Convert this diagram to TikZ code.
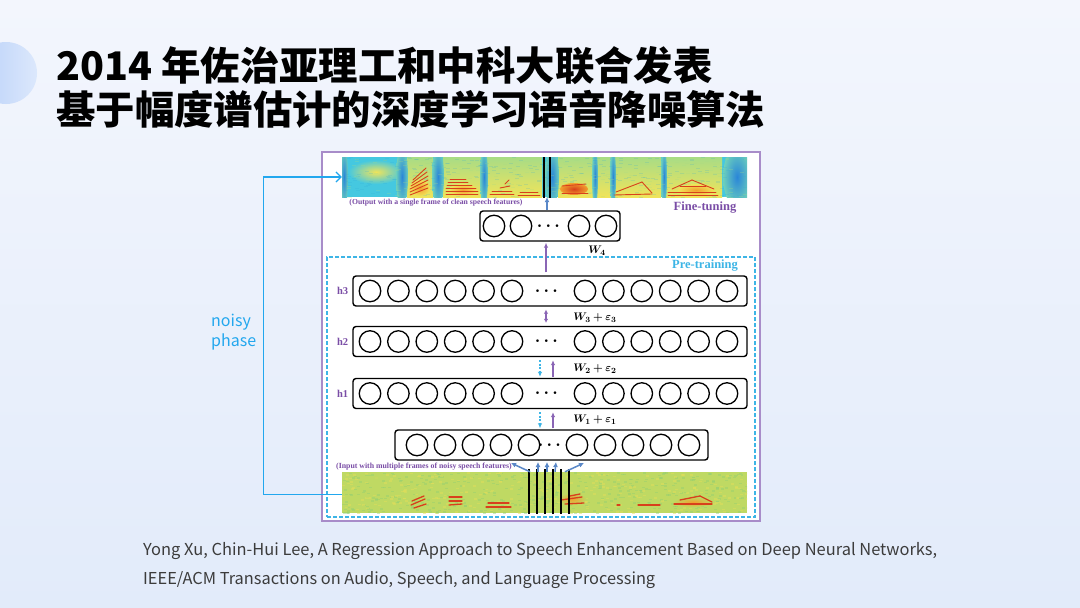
\documentclass[tikz,border=0pt]{standalone}
\usepackage{fontspec}
\usepackage{amsmath,bm}
\usetikzlibrary{arrows.meta,calc}
\newfontfamily\cjk{Noto Sans CJK SC}
\newfontfamily\tnr{Liberation Serif}
\definecolor{bgtop}{HTML}{F3F6FD}
\definecolor{bgbot}{HTML}{E2EBFA}
\definecolor{decoL}{HTML}{B8D0F8}
\definecolor{decoR}{HTML}{DCE8FC}
\definecolor{framepurple}{HTML}{A88CC9}
\definecolor{labpurple}{HTML}{7A4DA6}
\definecolor{arrpurple}{HTML}{8A65B5}
\definecolor{precyan}{HTML}{3DB5E6}
\definecolor{phasecyan}{HTML}{22A7EE}
\definecolor{arrblue}{HTML}{5A88C8}
\definecolor{refgray}{HTML}{3C3C3C}
\definecolor{specCyan}{HTML}{45C8E0}
\definecolor{specCyanD}{HTML}{2FA9D8}
\definecolor{specBlue}{HTML}{2A86D8}
\definecolor{specYel}{HTML}{F0E45A}
\definecolor{specGY}{HTML}{A8DC86}
\definecolor{specOr}{HTML}{F2A02E}
\definecolor{specRed}{HTML}{D8401C}
\definecolor{botBase}{HTML}{BFD963}
\definecolor{botGreen}{HTML}{93CF72}
\definecolor{botYel}{HTML}{E2DE5A}
\begin{document}
\begin{tikzpicture}[x=1pt,y=-1pt,
  rowbox/.style={draw=black, line width=1.4pt, rounded corners=3pt, inner sep=0pt, fill=white},
  neuron/.style={circle, draw=black, line width=1.3pt, minimum size=21.5pt, inner sep=0pt},
  dotsnode/.style={inner sep=0pt, font=\fontsize{16}{16}\selectfont},
  hlab/.style={inner sep=0pt, text=labpurple, font=\tnr\bfseries\fontsize{10.5}{12}\selectfont},
  wlab/.style={inner sep=0pt, font=\fontsize{11}{12}\selectfont},
  parrow/.style={draw=arrpurple, line width=1.2pt, -{Latex[length=5pt,width=4.5pt]}},
  carrow/.style={draw=precyan, line width=1.1pt, dash pattern=on 2pt off 1.5pt, -{Latex[length=5pt,width=4.5pt]}},
  barrow/.style={draw=arrblue, line width=1.5pt, -{Latex[length=5pt,width=5pt]}},
  speclines/.style={draw=black, line width=1.6pt},
  harm/.style={draw=specRed, line width=0.9pt, line cap=round},
  bharm/.style={draw=specRed, line width=1.3pt, line cap=round},
  phase/.style={draw=phasecyan, line width=1.2pt}
]
\useasboundingbox (0,0) rectangle (1080,608);
\shade[top color=bgtop, bottom color=bgbot] (0,0) rectangle (1080,608);
\shade[left color=decoL, right color=decoR] (6,73) circle (31);

% titles
\node[anchor=base west, inner sep=0pt, text=black, font=\cjk\bfseries\fontsize{39.4}{44}\selectfont] (title1) at (56,80) {2014 年佐治亚理工和中科大联合发表};
\node[anchor=base west, inner sep=0pt, text=black, font=\cjk\bfseries\fontsize{39.4}{44}\selectfont] (title2) at (56,124) {基于幅度谱估计的深度学习语音降噪算法};

% frame
\node[draw=framepurple, line width=1.5pt, fill=white, minimum width=438pt, minimum height=369pt, inner sep=0pt] (frame) at (541,336.5) {};
\node[draw=precyan, line width=1.2pt, dash pattern=on 4pt off 2pt, minimum width=428pt, minimum height=260pt, inner sep=0pt] (pre) at (541,387) {};

% top spectrogram
\node[fill=specCyan, minimum width=405pt, minimum height=40pt, inner sep=0pt] (topspec) at (544.5,177) {};
\begin{scope}
\clip (342,157) rectangle (747,197);
\foreach \a/\b in {407/433,443/482,487/542,558/593,597/611,615/661,666/722}{
  \shade[top color=specGY, bottom color=specYel] (\a,157) rectangle (\b,197);
}
\shade[inner color=specYel, outer color=specCyan] (376,172) ellipse [x radius=28, y radius=12];
\foreach \cx/\rx in {344/4,402/6,438/6,484/4,552/7,595/3,613/3,664/3,737/14}{
  \shade[inner color=specBlue, outer color=specCyan!60!specGY] (\cx,177) ellipse [x radius=\rx, y radius=30];
}
\pgfmathsetseed{11}
\foreach \i in {1,...,300}{
  \fill[specCyanD, opacity=0.18] (342+405*rnd,157+40*rnd) rectangle ++(4,1);
}
\foreach \i in {1,...,200}{
  \fill[specGY, opacity=0.25] (342+405*rnd,157+40*rnd) rectangle ++(4,1);
}
\shade[inner color=specRed, outer color=specOr] (574,189) ellipse [x radius=14, y radius=6];
\shade[inner color=specOr, outer color=specYel] (420,188) ellipse [x radius=10, y radius=8];
\shade[inner color=specOr, outer color=specYel] (463,190) ellipse [x radius=14, y radius=6];
\shade[inner color=specOr, outer color=specYel] (696,190) ellipse [x radius=18, y radius=6];
\foreach \a/\b/\c/\d in {410/195/428/188, 410/192/428/184, 410/189/428/180, 411/186/428/176, 412/183/427/172, 413/180/426/168, 446/194/478/194, 446/191/478/191, 446/188/476/188, 447/185/472/185, 448/182/468/182, 450/179/466/179, 490/194/514/194, 492/191/512/191, 500/188/510/186, 505/184/509/180, 518/195/540/195, 520/192/538/192, 562/186/586/184, 562/193/588/193, 614/195/652/194, 616/192/642/182, 642/182/652/193, 668/195/718/195, 668/192/716/192, 672/189/692/180, 692/180/714/189, 680/186/706/186}{
  \draw[harm] (\a,\b) -- (\c,\d);
}
\end{scope}
\draw[speclines] (544,157) -- (544,198);
\draw[speclines] (550,157) -- (550,198);
\coordinate (outarr) at (547,210);
\draw[barrow] (outarr) -- ([xshift=2.5pt]topspec.south);

% bottom spectrogram
\node[fill=botBase, minimum width=405pt, minimum height=41pt, inner sep=0pt] (botspec) at (544.5,492.5) {};
\begin{scope}
\clip (342,472) rectangle (747,513);
\pgfmathsetseed{5}
\foreach \i in {1,...,420}{
  \fill[botGreen, opacity=0.45] (342+405*rnd,472+41*rnd) rectangle ++(3,1.5);
}
\foreach \i in {1,...,300}{
  \fill[botYel, opacity=0.5] (342+405*rnd,472+41*rnd) rectangle ++(3,1.5);
}
\shade[inner color=specOr, outer color=botBase] (572,499) ellipse [x radius=14, y radius=6];
\shade[inner color=specOr, outer color=botBase] (693,502) ellipse [x radius=20, y radius=5];
\foreach \a/\b/\c/\d in {411/505/425/499, 412/501/424/496, 414/508/426/504, 449/497/462/497, 449/501/462/501, 449/505/462/504, 488/503/509/503, 486/507/511/507, 561/500/582/497, 565/504/584/503, 570/496/580/494, 617/505/620/505, 638/505/660/505, 674/504/712/504, 680/500/700/496, 700/496/712/502}{
  \draw[bharm] (\a,\b) -- (\c,\d);
}
\end{scope}
\foreach \x in {529,537,545,553,561,569}{
  \draw[speclines] (\x,469) -- (\x,514);
}

% fine-tuning network
\node[rowbox, minimum width=140pt, minimum height=30pt] (fine) at (550,226) {};
\foreach \x [count=\k] in {494,521,579,606}{
  \node[neuron] (fine-n\k) at (\x,226) {};
}
\node[dotsnode] (fine-d) at (550,226) {$\bm{\cdots}$};

% hidden layers
\foreach \r/\y in {h3/291,h2/341.5,h1/393.5}{
  \node[rowbox, minimum width=394pt, minimum height=30pt] (\r) at (550,\y) {};
  \foreach \i in {0,...,5}{
    \node[neuron] (\r-l\i) at (370+28.4*\i,\y) {};
    \node[neuron] (\r-r\i) at (585+28.4*\i,\y) {};
  }
  \node[dotsnode] (\r-d) at (548,\y) {$\bm{\cdots}$};
  \node[hlab, anchor=east] (\r-lab) at ([xshift=-4pt]\r.west) {\r};
}

% input layer
\node[rowbox, minimum width=313pt, minimum height=30pt] (inp) at (551.5,445) {};
\foreach \x [count=\k] in {417,445,473,501,529}{
  \node[neuron] (inp-l\k) at (\x,445) {};
}
\foreach \x [count=\k] in {577,605,633,661,689}{
  \node[neuron] (inp-r\k) at (\x,445) {};
}
\node[dotsnode] (inp-d) at (551,445) {$\bm{\cdots}$};

% labels
\node[inner sep=0pt, text=labpurple, font=\tnr\bfseries\fontsize{7.7}{8}\selectfont] (outtxt) at (436,203) {(Output with a single frame of clean speech features)};
\node[inner sep=0pt, text=labpurple, font=\tnr\bfseries\fontsize{7.8}{8}\selectfont] (intxt) at (424,467) {(Input with multiple frames of noisy speech features)};
\node[inner sep=0pt, text=labpurple, font=\tnr\bfseries\fontsize{12.5}{14}\selectfont] (ftxt) at (705,208) {Fine-tuning};
\node[inner sep=0pt, text=precyan, font=\tnr\bfseries\fontsize{12.5}{14}\selectfont] (ptxt) at (705,266) {Pre-training};

\node[wlab] (w4) at (597,251) {$\bm{W_4}$};
\node[wlab] (w3) at (595,318) {$\bm{W_3+\varepsilon_3}$};
\node[wlab] (w2) at (595,369) {$\bm{W_2+\varepsilon_2}$};
\node[wlab] (w1) at (595,420) {$\bm{W_1+\varepsilon_1}$};

% arrows
\draw[parrow, shorten <=3pt, shorten >=1pt] ([xshift=-4pt]h3.north) -- ([xshift=-4pt]fine.south);
\draw[parrow, {Latex[length=4pt,width=4.5pt]}-{Latex[length=4pt,width=4.5pt]}, shorten <=3pt, shorten >=3pt] ([xshift=-4pt]h3.south) -- ([xshift=-4pt]h2.north);
\draw[carrow, shorten <=3pt, shorten >=1pt] ([xshift=-10pt]h2.south) -- ([xshift=-10pt]h1.north);
\draw[parrow, shorten <=1pt, shorten >=3pt] ([xshift=3pt]h1.north) -- ([xshift=3pt]h2.south);
\draw[carrow, shorten <=3pt, shorten >=1pt] ([xshift=-10pt]h1.south) -- ([xshift=-10pt]h1.south |- inp.north);
\draw[parrow, shorten <=1pt, shorten >=3pt] ([xshift=3pt]h1.south |- inp.north) -- ([xshift=3pt]h1.south);

% fan arrows
\coordinate (fa1) at (511,463);
\coordinate (fa2) at (538,462);
\coordinate (fa3) at (547,462);
\coordinate (fa4) at (556,462);
\coordinate (fa5) at (584,463);
\draw[barrow] ([xshift=-14.5pt]botspec.north) -- (fa1);
\draw[barrow] ([xshift=-6.5pt]botspec.north) -- (fa2);
\draw[barrow] ([xshift=2.5pt]botspec.north) -- (fa3);
\draw[barrow] ([xshift=10.5pt]botspec.north) -- (fa4);
\draw[barrow] ([xshift=20.5pt]botspec.north) -- (fa5);

% noisy phase connector
\draw[phase, -{Straight Barb[length=5pt,width=10pt]}] ([yshift=-2pt]botspec.west) -- ++(-78,0) |- (topspec.west);
\node[anchor=west, inner sep=0pt, align=left, text=phasecyan, font=\cjk\fontsize{16}{20}\selectfont] (phtxt) at (211,332) {noisy\\phase};

% reference
\node[anchor=west, inner sep=0pt, text=refgray, font=\cjk\fontsize{16}{20}\selectfont] (ref1) at (143,551) {\resizebox{794pt}{!}{Yong Xu, Chin-Hui Lee, A Regression Approach to Speech Enhancement Based on Deep Neural Networks,}};
\node[anchor=west, inner sep=0pt, text=refgray, font=\cjk\fontsize{16}{20}\selectfont] (ref2) at (143,580) {\resizebox{512pt}{!}{IEEE/ACM Transactions on Audio, Speech, and Language Processing}};
\end{tikzpicture}
\end{document}
